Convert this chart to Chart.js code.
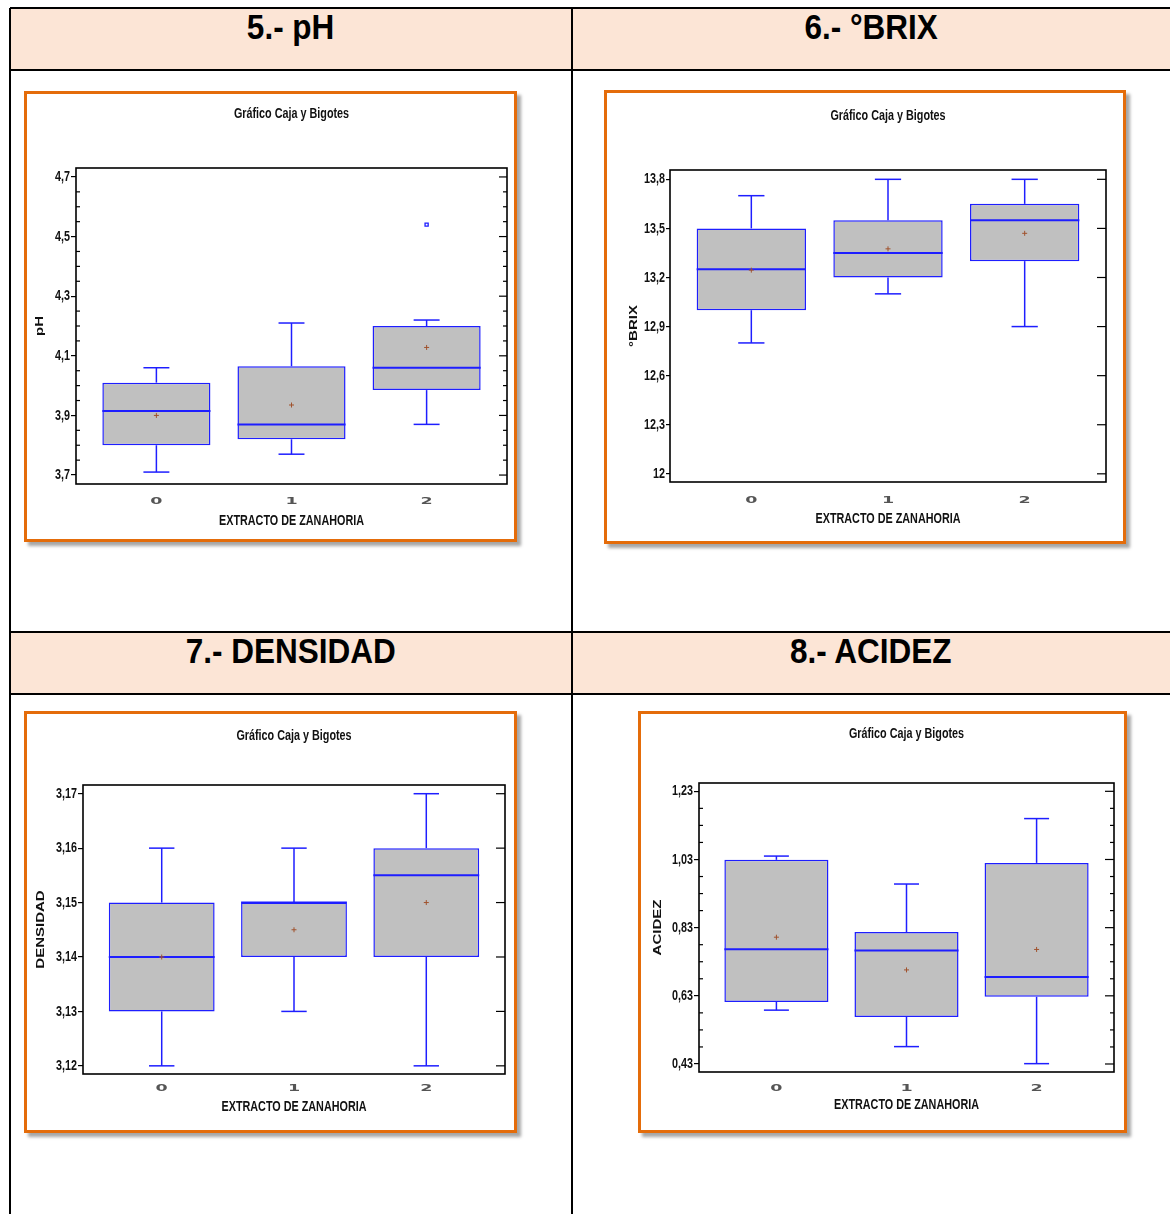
<!DOCTYPE html>
<html>
<head>
<meta charset="utf-8">
<title>Gráfico Caja y Bigotes</title>
<script src="https://cdn.jsdelivr.net/npm/chart.js@4.4.1/dist/chart.umd.min.js"></script>
<style>
  html, body { margin: 0; padding: 0; background: #fff; }
  body { position: relative; width: 1170px; height: 1214px; overflow: hidden; font-family: 'Liberation Sans', Arial, sans-serif; }
  .head { position: absolute; height: 62px; background: #FCE5D6; text-align: center; color: #000; }
  .head span { display: inline-block; font-weight: bold; font-size: 35px; line-height: 38px; transform: scaleX(0.9); }
  .hline { position: absolute; left: 10px; width: 1160px; height: 0; border-top: 2px solid #000; }
  .vline { position: absolute; top: 8px; height: 1206px; width: 0; border-left: 2px solid #000; }
  .frame { position: absolute; box-sizing: border-box; border: 3px solid #E46C0A; background: #fff; box-shadow: 4px 4px 3px rgba(0,0,0,0.35); }
  .frame canvas { position: absolute; left: 0; top: 0; }
</style>
</head>
<body>
<div class="head" style="left:10px;top:8px;width:562px;"><span>5.- pH</span></div>
<div class="head" style="left:572px;top:8px;width:598px;"><span>6.- °BRIX</span></div>
<div class="head" style="left:10px;top:632px;width:562px;"><span>7.- DENSIDAD</span></div>
<div class="head" style="left:572px;top:632px;width:598px;"><span>8.- ACIDEZ</span></div>
<div class="hline" style="top:7px;"></div>
<div class="hline" style="top:69px;"></div>
<div class="hline" style="top:631px;"></div>
<div class="hline" style="top:693px;"></div>
<div class="vline" style="left:9px;"></div>
<div class="vline" style="left:571px;"></div>

<div class="frame" style="left:24px;top:91px;width:493px;height:451px;"><canvas id="cPh" width="487" height="445"></canvas></div>
<div class="frame" style="left:604px;top:90px;width:522px;height:454px;"><canvas id="cBrix" width="516" height="448"></canvas></div>
<div class="frame" style="left:24px;top:711px;width:493px;height:422px;"><canvas id="cDens" width="487" height="416"></canvas></div>
<div class="frame" style="left:638px;top:711px;width:489px;height:422px;"><canvas id="cAcid" width="483" height="416"></canvas></div>

<script>
// Groups: carrot extract level
const categories = ['0', '1', '2'];

// pH
const phMin     = [3.71, 3.77, 3.87];
const phQ1      = [3.80, 3.82, 3.985];
const phMedian  = [3.915, 3.87, 4.06];
const phQ3      = [4.01, 4.065, 4.20];
const phMax     = [4.06, 4.21, 4.22];
const phMean    = [3.90, 3.935, 4.128];
const phOutliers = [[], [], [4.54]];
const phTicks   = [3.7, 3.9, 4.1, 4.3, 4.5, 4.7];

// °BRIX
const brixMin    = [12.8, 13.1, 12.9];
const brixQ1     = [13.0, 13.2, 13.3];
const brixMedian = [13.25, 13.35, 13.55];
const brixQ3     = [13.5, 13.55, 13.65];
const brixMax    = [13.7, 13.8, 13.8];
const brixMean   = [13.245, 13.375, 13.47];
const brixOutliers = [[], [], []];
const brixTicks  = [12, 12.3, 12.6, 12.9, 13.2, 13.5, 13.8];

// DENSIDAD
const densMin    = [3.12, 3.13, 3.12];
const densQ1     = [3.13, 3.14, 3.14];
const densMedian = [3.14, 3.15, 3.155];
const densQ3     = [3.15, 3.15, 3.16];
const densMax    = [3.16, 3.16, 3.17];
const densMean   = [3.14, 3.145, 3.15];
const densOutliers = [[], [], []];
const densTicks  = [3.12, 3.13, 3.14, 3.15, 3.16, 3.17];

// ACIDEZ
const acidMin    = [0.588, 0.481, 0.431];
const acidQ1     = [0.612, 0.568, 0.627];
const acidMedian = [0.767, 0.763, 0.685];
const acidQ3     = [1.029, 0.817, 1.020];
const acidMax    = [1.040, 0.958, 1.150];
const acidMean   = [0.802, 0.706, 0.766];
const acidOutliers = [[], [], []];
const acidTicks  = [0.43, 0.63, 0.83, 1.03, 1.23];

const BLUE = '#1E1EFF';
const TEXT_FONT = "bold 15px 'Liberation Sans', Arial, sans-serif";
const SQUEEZE = 0.72;   // narrow lettering of the chart texts

function fmt(v) {
  return String(Math.round(v * 1000) / 1000).replace('.', ',');
}

function line(ctx, x1, y1, x2, y2) {
  ctx.beginPath(); ctx.moveTo(x1, y1); ctx.lineTo(x2, y2); ctx.stroke();
}

// Condensed text: draws with a horizontal squeeze, optional rotation
function narrowText(ctx, text, x, y, align, rotate) {
  ctx.save();
  ctx.translate(x, y);
  ctx.scale(SQUEEZE, 1);
  if (rotate) ctx.rotate(-Math.PI / 2);
  ctx.font = TEXT_FONT;
  ctx.fillStyle = '#111';
  ctx.textAlign = align;
  ctx.textBaseline = 'middle';
  ctx.fillText(text, 0, 0);
  ctx.restore();
}

// Whiskers, medians, plot frame, extra tick marks and all chart texts
const boxDecor = {
  id: 'boxDecor',
  afterDatasetDraw(chart, args, opts) {
    if (args.meta.type !== 'bar') return;
    const ctx = chart.ctx, y = chart.scales.y, s = opts.stats;
    args.meta.data.forEach((bar, i) => {
      const cx = bar.x, half = bar.width / 2, cap = bar.width * 0.12;
      const yMin = y.getPixelForValue(s.min[i]);
      const yQ1 = y.getPixelForValue(s.q1[i]);
      const yMed = y.getPixelForValue(s.median[i]);
      const yQ3 = y.getPixelForValue(s.q3[i]);
      const yMax = y.getPixelForValue(s.max[i]);
      ctx.save();
      ctx.strokeStyle = BLUE;
      ctx.lineWidth = 1.5;
      line(ctx, cx, yQ3, cx, yMax);
      line(ctx, cx - cap, yMax, cx + cap, yMax);
      line(ctx, cx, yQ1, cx, yMin);
      line(ctx, cx - cap, yMin, cx + cap, yMin);
      ctx.lineWidth = 2;
      line(ctx, cx - half, yMed, cx + half, yMed);
      ctx.restore();
    });
  },
  afterDraw(chart, args, opts) {
    const ctx = chart.ctx, a = chart.chartArea, x = chart.scales.x, y = chart.scales.y, g = opts.geom;
    ctx.save();
    ctx.strokeStyle = '#000';
    ctx.lineWidth = 1.6;
    ctx.strokeRect(a.left, a.top, a.right - a.left, a.bottom - a.top);
    ctx.lineWidth = 1.2;
    const majors = y.ticks.map(t => t.value);
    majors.forEach(v => {
      const py = y.getPixelForValue(v);
      line(ctx, a.right - g.majorIn, py, a.right, py);
    });
    if (opts.minorStep) {
      const lo = majors[0], hi = majors[majors.length - 1];
      const n = Math.round((hi - lo) / opts.minorStep);
      for (let k = 0; k <= n; k++) {
        const v = lo + k * opts.minorStep;
        if (majors.some(m => Math.abs(m - v) < opts.minorStep / 10)) continue;
        const py = y.getPixelForValue(v);
        line(ctx, a.right - 4, py, a.right, py);
        line(ctx, a.left, py, a.left + 4, py);
      }
    }
    ctx.restore();

    const cxArea = (a.left + a.right) / 2;
    narrowText(ctx, 'Gráfico Caja y Bigotes', cxArea, g.titleY, 'center');
    y.ticks.forEach(t => {
      narrowText(ctx, fmt(t.value), a.left - g.majorOut - 1, y.getPixelForValue(t.value), 'right');
    });
    narrowText(ctx, 'EXTRACTO DE ZANAHORIA', cxArea, g.xTitleY, 'center');
    narrowText(ctx, opts.yTitle, g.yTitleX, (a.top + a.bottom) / 2, 'center', true);

    // wide, flattened category digits under the axis
    x.ticks.forEach(t => {
      ctx.save();
      ctx.translate(x.getPixelForValue(t.value), g.xLabY);
      ctx.scale(1.25, 0.6);
      ctx.font = "bold 14px 'DejaVu Sans', sans-serif";
      ctx.fillStyle = '#555';
      ctx.textAlign = 'center';
      ctx.textBaseline = 'middle';
      ctx.fillText(categories[t.value], 0, 0);
      ctx.restore();
    });
  }
};

function boxChart(id, g, d) {
  const boxes = categories.map((c, i) => ({ x: i, y: [d.q1[i], d.q3[i]] }));
  const means = categories.map((c, i) => ({ x: i, y: d.mean[i] }));
  const outs = [];
  d.outliers.forEach((list, i) => list.forEach(v => outs.push({ x: i, y: v })));
  return new Chart(document.getElementById(id), {
    type: 'bar',
    data: {
      datasets: [
        { type: 'bar', data: boxes, backgroundColor: '#C0C0C0', borderColor: BLUE, borderWidth: 1.5,
          borderSkipped: false, categoryPercentage: 1, barPercentage: 0.8, order: 2 },
        { type: 'scatter', data: outs, pointStyle: 'rect', radius: 2.2, borderColor: BLUE,
          backgroundColor: '#fff', borderWidth: 1.3, order: 1 },
        { type: 'scatter', data: means, pointStyle: 'cross', radius: 2.5, borderColor: '#A0522D',
          borderWidth: 1, order: 0 }
      ]
    },
    options: {
      responsive: false,
      animation: false,
      layout: { padding: { left: 0, right: g.w - g.r, top: g.t, bottom: 0 } },
      plugins: {
        legend: { display: false },
        tooltip: { enabled: false },
        title: { display: false },
        boxDecor: { stats: d, minorStep: d.minorStep, geom: g, yTitle: d.yTitle }
      },
      scales: {
        x: {
          type: 'linear',
          min: -0.595, max: 2.595,
          offset: false,
          afterBuildTicks: s => { s.ticks = categories.map((c, i) => ({ value: i })); },
          afterFit: s => { s.height = g.h - g.b; },
          grid: { display: false, drawTicks: false },
          border: { display: false },
          ticks: { display: false }
        },
        y: {
          min: d.yMin, max: d.yMax,
          afterBuildTicks: s => { s.ticks = d.ticks.map(v => ({ value: v })); },
          afterFit: s => { s.width = g.l; },
          grid: { display: true, drawOnChartArea: false, drawTicks: true, tickLength: g.majorOut,
                  color: '#000', tickColor: '#000', lineWidth: 1.2 },
          border: { display: false },
          ticks: { display: false }
        }
      }
    },
    plugins: [boxDecor]
  });
}

boxChart('cPh',
  { w: 487, h: 445, l: 49, t: 74, r: 480, b: 390, titleY: 20, xLabY: 408, xTitleY: 427,
    yTitleX: 13, majorOut: 5, majorIn: 8 },
  { min: phMin, q1: phQ1, median: phMedian, q3: phQ3, max: phMax, mean: phMean, outliers: phOutliers,
    ticks: phTicks, minorStep: 0.05, yMin: 3.67, yMax: 4.73, yTitle: 'pH' });

boxChart('cBrix',
  { w: 516, h: 448, l: 63, t: 77, r: 499, b: 389, titleY: 23, xLabY: 408, xTitleY: 426,
    yTitleX: 27, majorOut: 4, majorIn: 9 },
  { min: brixMin, q1: brixQ1, median: brixMedian, q3: brixQ3, max: brixMax, mean: brixMean, outliers: brixOutliers,
    ticks: brixTicks, minorStep: 0, yMin: 11.95, yMax: 13.857, yTitle: '°BRIX' });

boxChart('cDens',
  { w: 487, h: 416, l: 56, t: 71, r: 478, b: 360, titleY: 22, xLabY: 375, xTitleY: 393,
    yTitleX: 14, majorOut: 5, majorIn: 9 },
  { min: densMin, q1: densQ1, median: densMedian, q3: densQ3, max: densMax, mean: densMean, outliers: densOutliers,
    ticks: densTicks, minorStep: 0, yMin: 3.1185, yMax: 3.1716, yTitle: 'DENSIDAD' });

boxChart('cAcid',
  { w: 483, h: 416, l: 58, t: 69, r: 473, b: 358, titleY: 20, xLabY: 375, xTitleY: 391,
    yTitleX: 17, majorOut: 5, majorIn: 9 },
  { min: acidMin, q1: acidQ1, median: acidMedian, q3: acidQ3, max: acidMax, mean: acidMean, outliers: acidOutliers,
    ticks: acidTicks, minorStep: 0.05, yMin: 0.4065, yMax: 1.2544, yTitle: 'ACIDEZ' });
</script>
</body>
</html>
